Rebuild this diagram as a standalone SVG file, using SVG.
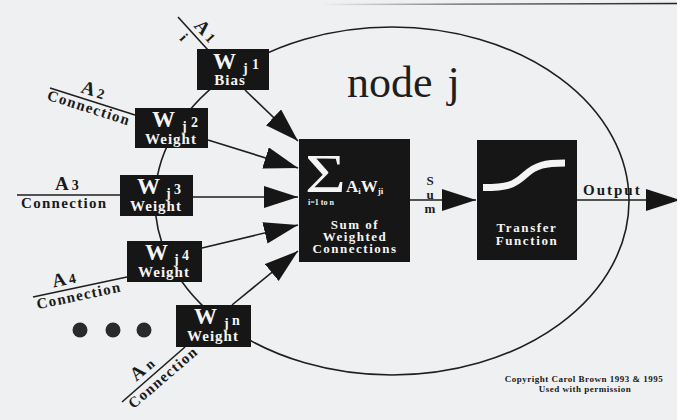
<svg xmlns="http://www.w3.org/2000/svg" width="677" height="420" viewBox="0 0 677 420">
<defs>
<marker id="ah" markerUnits="userSpaceOnUse" markerWidth="36" markerHeight="24" refX="34" refY="11" orient="auto">
<path d="M0,0 L34,11 L0,22 z" fill="#161616"/>
</marker>
<linearGradient id="edge" x1="0" x2="1" y1="0" y2="0">
<stop offset="0" stop-color="#555" stop-opacity="0"/>
<stop offset="0.4" stop-color="#444" stop-opacity="0.7"/>
<stop offset="1" stop-color="#222"/>
</linearGradient>
</defs>
<style>
.box{fill:#161616}
.ln{stroke:#1e1e1e;stroke-width:1.6;fill:none}
.wt{font-family:"Liberation Serif",serif;font-weight:bold;fill:#f4f4f4}
.bk{font-family:"Liberation Serif",serif;font-weight:bold;fill:#1a1a1a}
.W{font-size:23px}
.sub{font-size:14px}
.lab{font-size:15px;letter-spacing:1px}
.con{font-size:15px;letter-spacing:1.3px}
.A{font-size:19px}
</style>
<rect width="677" height="420" fill="#eef0f1"/>
<line x1="320" y1="4.5" x2="677" y2="3.5" stroke="url(#edge)" stroke-width="1.5"/>

<g id="body">
<ellipse cx="392" cy="201" rx="237" ry="174" class="ln"/>
<text x="347" y="97" style="font-family:'Liberation Serif',serif;font-size:44px;fill:#1e1e1e">node<tspan dx="15">j</tspan></text>
</g>

<g id="connectors">
<line class="ln" x1="178" y1="17" x2="208" y2="50"/>
<line class="ln" x1="50" y1="88" x2="135" y2="115"/>
<line class="ln" x1="17" y1="195" x2="120" y2="195"/>
<line class="ln" x1="33" y1="297" x2="127" y2="277"/>
<line class="ln" x1="122" y1="402" x2="185" y2="347"/>
<line class="ln" x1="245" y1="90" x2="298" y2="141" marker-end="url(#ah)"/>
<line class="ln" x1="208" y1="140" x2="298" y2="168" marker-end="url(#ah)"/>
<line class="ln" x1="193" y1="197" x2="298" y2="197" marker-end="url(#ah)"/>
<line class="ln" x1="202" y1="248" x2="298" y2="225" marker-end="url(#ah)"/>
<line class="ln" x1="232" y1="305" x2="298" y2="251" marker-end="url(#ah)"/>
<line class="ln" x1="410" y1="200" x2="476" y2="200" marker-end="url(#ah)"/>
<line class="ln" x1="577" y1="200" x2="680" y2="200" marker-end="url(#ah)"/>
</g>

<g id="input1">
<g transform="translate(178,17) rotate(47.7)">
<text class="bk A" x="17" y="-5">A<tspan class="sub" dx="3">1</tspan></text>
<text class="bk sub" x="17" y="14">i</text>
</g>
</g>
<g id="input2">
<g transform="translate(50,88) rotate(17.6)">
<text class="bk A" x="30" y="-5">A<tspan class="sub" dx="3">2</tspan></text>
<text class="bk con" x="0" y="12">Connection</text>
</g>
</g>
<g id="input3">
<text class="bk A" x="55" y="190">A<tspan class="sub" dx="3">3</tspan></text>
<text class="bk con" x="21" y="208">Connection</text>
</g>
<g id="input4">
<g transform="translate(33,297) rotate(-12)">
<text class="bk A" x="22" y="-5">A<tspan class="sub" dx="3">4</tspan></text>
<text class="bk con" x="2" y="13">Connection</text>
</g>
</g>
<g id="inputn">
<g transform="translate(122,402) rotate(-40.6)">
<text class="bk A" x="24" y="-6">A<tspan class="sub" dx="4">n</tspan></text>
<text class="bk con" x="4" y="13">Connection</text>
</g>
</g>

<g id="dots" fill="#2a2a2a">
<circle cx="80" cy="330" r="7.5"/>
<circle cx="113" cy="330" r="7.5"/>
<circle cx="144" cy="330" r="7.5"/>
</g>

<g id="wj1">
<rect class="box" x="197" y="49" width="72" height="41"/>
<text class="wt W" x="213" y="69">W</text>
<text class="wt sub" x="243" y="73">j</text>
<text class="wt sub" x="252" y="69">1</text>
<text class="wt lab" x="230" y="85" text-anchor="middle">Bias</text>
</g>
<g id="wj2">
<rect class="box" x="135" y="108" width="73" height="40"/>
<text class="wt W" x="152" y="127">W</text>
<text class="wt sub" x="182" y="131">j</text>
<text class="wt sub" x="191" y="127">2</text>
<text class="wt lab" x="171" y="144" text-anchor="middle">Weight</text>
</g>
<g id="wj3">
<rect class="box" x="120" y="175" width="73" height="41"/>
<text class="wt W" x="137" y="194">W</text>
<text class="wt sub" x="166" y="198">j</text>
<text class="wt sub" x="174" y="194">3</text>
<text class="wt lab" x="156" y="211" text-anchor="middle">Weight</text>
</g>
<g id="wj4">
<rect class="box" x="127" y="241" width="75" height="41"/>
<text class="wt W" x="145" y="260">W</text>
<text class="wt sub" x="174" y="264">j</text>
<text class="wt sub" x="182" y="260">4</text>
<text class="wt lab" x="164" y="277" text-anchor="middle">Weight</text>
</g>
<g id="wjn">
<rect class="box" x="176" y="305" width="75" height="42"/>
<text class="wt W" x="194" y="324">W</text>
<text class="wt sub" x="224" y="328">j</text>
<text class="wt sub" x="232" y="325">n</text>
<text class="wt lab" x="213" y="341" text-anchor="middle">Weight</text>
</g>

<g id="sum">
<rect class="box" x="299" y="139" width="111" height="123"/>
<text class="wt" transform="translate(305,192) scale(1.3,1)" style="font-size:54px;font-weight:normal">Σ</text>
<text class="wt" x="346" y="192" style="font-size:17px">A<tspan style="font-size:9px" dy="2">i</tspan><tspan dy="-2">W</tspan><tspan style="font-size:9px" dy="2">ji</tspan></text>
<text class="wt" x="308" y="205" style="font-size:8px">i=1 to n</text>
<text class="wt" x="355" y="229" text-anchor="middle" style="font-size:13px;letter-spacing:1.5px">Sum of</text>
<text class="wt" x="355" y="241" text-anchor="middle" style="font-size:13px;letter-spacing:1.5px">Weighted</text>
<text class="wt" x="355" y="253" text-anchor="middle" style="font-size:13px;letter-spacing:1.5px">Connections</text>
</g>
<g id="sumlabel">
<text class="bk" x="430" y="185" text-anchor="middle" style="font-size:13px">S</text>
<text class="bk" x="430" y="199" text-anchor="middle" style="font-size:13px">u</text>
<text class="bk" x="430" y="213" text-anchor="middle" style="font-size:13px">m</text>
</g>

<g id="transfer">
<rect class="box" x="477" y="140" width="100" height="120"/>
<path d="M483,187.5 C508,187.5 514,185 525,175 C536,165 545,163 565,163" stroke="#f4f4f4" stroke-width="7" fill="none"/>
<text class="wt" x="527" y="232" text-anchor="middle" style="font-size:13px;letter-spacing:1.6px">Transfer</text>
<text class="wt" x="527" y="245" text-anchor="middle" style="font-size:13px;letter-spacing:1.6px">Function</text>
</g>
<g id="output">
<text class="bk" x="583" y="195" style="font-size:15px;letter-spacing:2px">Output</text>
</g>

<g id="copyright">
<text class="bk" x="584" y="382" text-anchor="middle" style="font-size:9px;letter-spacing:0.5px">Copyright Carol Brown 1993 &amp; 1995</text>
<text class="bk" x="585" y="392" text-anchor="middle" style="font-size:9px;letter-spacing:0.5px">Used with permission</text>
</g>
</svg>
